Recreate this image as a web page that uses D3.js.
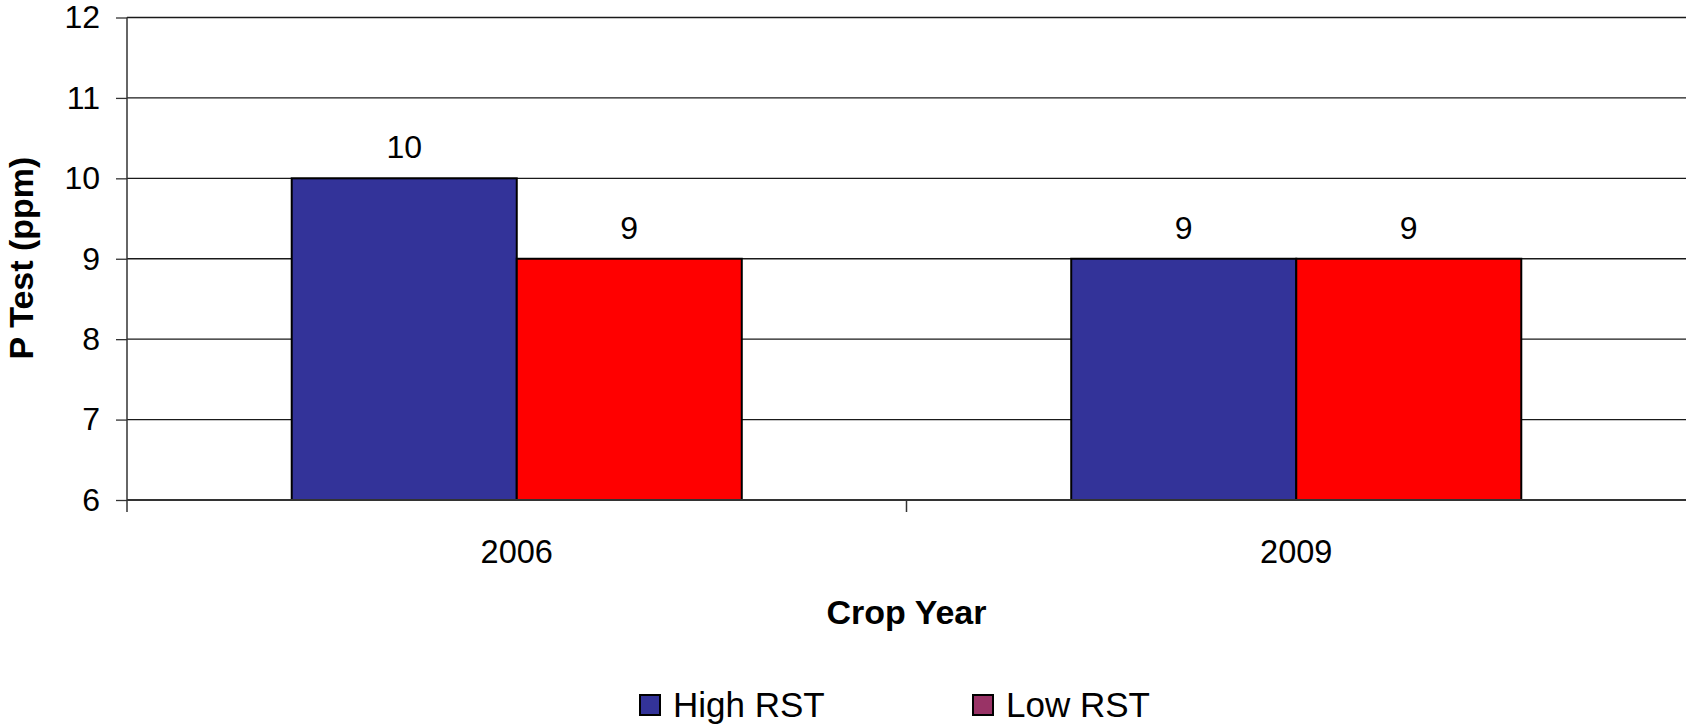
<!DOCTYPE html>
<html>
<head>
<meta charset="utf-8">
<script src="https://cdn.jsdelivr.net/npm/d3@7"></script>
<style>
  html, body { margin: 0; padding: 0; background: #fff; }
  svg { display: block; font-family: "Liberation Sans", Arial, sans-serif; }
</style>
</head>
<body>
<svg id="chart" width="1686" height="727"></svg>
<script>
const categories = ["2006", "2009"];
const seriesNames = ["High RST", "Low RST"];
const highRST = [10, 9];
const lowRST = [9, 9];
const yTicks = [6, 7, 8, 9, 10, 11, 12];
const barColors = ["#333399", "#FF0000"];
const legendColors = ["#333399", "#993366"];

(function () {
const svg = d3.select("#chart");
const mLeft = 127, mRight = 1686, mTop = 17.5, mBottom = 500;

const x0 = d3.scaleBand().domain(categories).range([mLeft, mRight]).padding(0);
const x1 = d3.scaleBand().domain(seriesNames).range([0, x0.bandwidth()]).paddingInner(0).paddingOuter(0.732);
const y = d3.scaleLinear().domain([6, 12]).range([mBottom, mTop]);

const values = [highRST, lowRST];

// gridlines
svg.append("g").selectAll("line").data(yTicks.filter(t => t > 6)).join("line")
  .attr("x1", mLeft).attr("x2", mRight)
  .attr("y1", d => y(d)).attr("y2", d => y(d))
  .attr("stroke", "#1a1a1a").attr("stroke-width", 1.3);

// bars
const groups = svg.append("g").selectAll("g").data(categories).join("g")
  .attr("transform", d => `translate(${x0(d)},0)`);
groups.selectAll("rect").data((c, i) => seriesNames.map((s, j) => ({s, j, v: values[j][i]}))).join("rect")
  .attr("x", d => x1(d.s)).attr("width", x1.bandwidth())
  .attr("y", d => y(d.v)).attr("height", d => y(6) - y(d.v))
  .attr("fill", d => barColors[d.j]).attr("stroke", "#000").attr("stroke-width", 2);
groups.selectAll("text").data((c, i) => seriesNames.map((s, j) => ({s, j, v: values[j][i]}))).join("text")
  .attr("x", d => x1(d.s) + x1.bandwidth() / 2).attr("y", d => y(d.v) - 20)
  .attr("text-anchor", "middle").attr("font-size", 32).attr("fill", "#000")
  .text(d => d.v);

// y axis
const yAxis = d3.axisLeft(y).tickValues(yTicks).tickSize(11).tickPadding(16).tickFormat(d3.format("d"));
const gy = svg.append("g").attr("transform", `translate(${mLeft},0)`).call(yAxis);
gy.select(".domain").remove();
gy.selectAll(".tick line").attr("stroke", "#333").attr("stroke-width", 1.3);
gy.selectAll(".tick text").attr("font-size", 32).attr("fill", "#000").attr("font-family", "Liberation Sans, Arial, sans-serif");
svg.append("line").attr("x1", mLeft).attr("x2", mLeft).attr("y1", mTop).attr("y2", mBottom + 12)
  .attr("stroke", "#333").attr("stroke-width", 1.5);

// x axis
const xAxis = d3.axisBottom(x0).tickSize(0).tickPadding(40);
const gx = svg.append("g").attr("transform", `translate(0,${mBottom})`).call(xAxis);
gx.select(".domain").remove();
gx.selectAll(".tick text").attr("font-size", 32.5).attr("fill", "#000").attr("font-family", "Liberation Sans, Arial, sans-serif");
svg.append("line").attr("x1", mLeft).attr("x2", mRight).attr("y1", mBottom).attr("y2", mBottom)
  .attr("stroke", "#333").attr("stroke-width", 2);
// category boundary ticks
svg.append("g").selectAll("line").data(categories.slice(1)).join("line")
  .attr("x1", d => x0(d)).attr("x2", d => x0(d))
  .attr("y1", mBottom).attr("y2", mBottom + 12)
  .attr("stroke", "#333").attr("stroke-width", 1.5);

// axis titles
svg.append("text").attr("x", (mLeft + mRight) / 2).attr("y", 624)
  .attr("text-anchor", "middle").attr("font-size", 34).attr("font-weight", "bold").text("Crop Year");
svg.append("text").attr("transform", "translate(33,258) rotate(-90)")
  .attr("text-anchor", "middle").attr("font-size", 34).attr("font-weight", "bold").text("P Test (ppm)");

// legend
const legendX = [640, 973];
const lg = svg.append("g").selectAll("g").data(seriesNames).join("g")
  .attr("transform", (d, i) => `translate(${legendX[i]},705)`);
lg.append("rect").attr("x", 0).attr("y", -10).attr("width", 20).attr("height", 20)
  .attr("fill", (d, i) => legendColors[i]).attr("stroke", "#000").attr("stroke-width", 2);
lg.append("text").attr("x", 33).attr("y", 12).attr("font-size", 35).text(d => d);
})();
</script>
</body>
</html>
